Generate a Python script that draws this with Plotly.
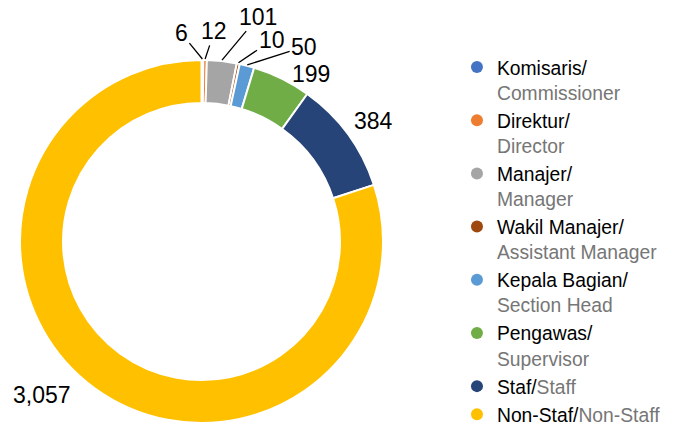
import math
import plotly.graph_objects as go

labels_id = ["Komisaris", "Direktur", "Manajer", "Wakil Manajer", "Kepala Bagian", "Pengawas", "Staf", "Non-Staf"]
labels_en = ["Commissioner", "Director", "Manager", "Assistant Manager", "Section Head", "Supervisor", "Staff", "Non-Staff"]
values = [6, 12, 101, 10, 50, 199, 384, 3057]
colors = ["#4472C4", "#ED7D31", "#A5A5A5", "#9E480E", "#5B9BD5", "#70AD47", "#264478", "#FFC000"]
single_line = [False, False, False, False, False, False, True, True]

# label placement style (angle nudge in degrees, radial distance in px, leader line)
label_dtheta = [-5.8, 2.4, 7.7, 7.5, 13.3, 6.8, 1.3, 10.1]
label_r = [209, 211, 232, 213, 220, 200, 210, 221]
label_line = [True, True, True, True, True, False, False, False]

W, H = 679, 434
# pie geometry (px)
CX, CY, R = 201.5, 241.5, 181.5
FONT = "Liberation Sans, Arial, sans-serif"

fig = go.Figure()
fig.add_trace(go.Pie(
    labels=labels_id, values=values, sort=False, direction="clockwise", rotation=0,
    hole=0.763, marker=dict(colors=colors, line=dict(color="white", width=2)),
    textinfo="none", hoverinfo="label+value",
    showlegend=False,
    domain=dict(x=[(CX - R) / W, (CX + R) / W], y=[1 - (CY + R) / H, 1 - (CY - R) / H]),
))

total = sum(values)
cum = 0
for v, dth, lr, line in zip(values, label_dtheta, label_r, label_line):
    mid = 2 * math.pi * (cum + v / 2) / total
    cum += v
    ex, ey = CX + (R + 1) * math.sin(mid), CY - (R + 1) * math.cos(mid)
    lt = mid + math.radians(dth)
    lx, ly = CX + lr * math.sin(lt), CY - lr * math.cos(lt)
    txt = f"{v:,}"
    if line:
        fig.add_annotation(x=ex / W, y=1 - ey / H, xref="paper", yref="paper",
                           ax=lx - ex, ay=ly - ey, text=txt, showarrow=True,
                           xanchor="center", yanchor="middle",
                           arrowhead=0, arrowwidth=1.3, arrowcolor="black", standoff=0,
                           startstandoff=0,
                           font=dict(family=FONT, size=23, color="black"))
    else:
        fig.add_annotation(x=lx / W, y=1 - ly / H, xref="paper", yref="paper",
                           text=txt, showarrow=False, xanchor="center", yanchor="middle",
                           font=dict(family=FONT, size=23, color="black"))

for lid, len_, col, single in zip(labels_id, labels_en, colors, single_line):
    if single:
        name = f"{lid}/<span style='color:#767676'>{len_}</span>"
    else:
        name = f"{lid}/<br><span style='color:#767676'>{len_}</span>"
    fig.add_trace(go.Scatter(
        x=[None], y=[None], mode="markers", name=name,
        marker=dict(symbol="circle", size=13, color=col),
    ))

fig.update_layout(
    width=W, height=H, margin=dict(l=0, r=0, t=0, b=0),
    paper_bgcolor="white", plot_bgcolor="white",
    xaxis=dict(visible=False), yaxis=dict(visible=False),
    legend=dict(x=0.673, y=1 - 64 / H, xanchor="left", yanchor="top", valign="top",
                font=dict(family=FONT, size=19.3, color="black"),
                tracegroupgap=0, itemsizing="constant"),
)
fig.write_html("out.html", config={"displayModeBar": False},
               post_script="document.body.style.margin='0';document.body.style.padding='0';")
